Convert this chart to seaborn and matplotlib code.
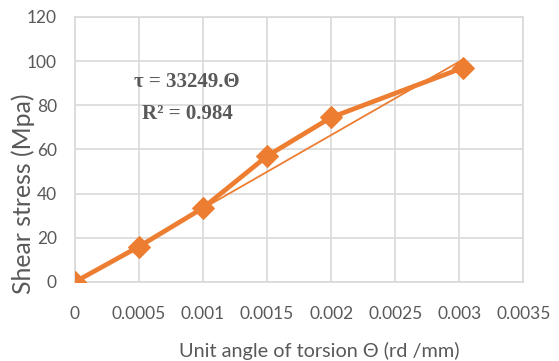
import numpy as np
import pandas as pd
import matplotlib
matplotlib.use("Agg")
import matplotlib.pyplot as plt
import seaborn as sns

# Measured torsion test values
theta = [0.0, 0.0005, 0.001, 0.0015, 0.002, 0.00303]
shear = [0.0, 16.0, 33.5, 57.0, 74.5, 97.0]
slope = 33249
r_squared = 0.984
x_ticks = [0, 0.0005, 0.001, 0.0015, 0.002, 0.0025, 0.003, 0.0035]
x_tick_labels = ["0", "0.0005", "0.001", "0.0015", "0.002", "0.0025", "0.003", "0.0035"]
y_ticks = [0, 20, 40, 60, 80, 100, 120]

sns.set_theme(style="whitegrid")
plt.rcParams["font.family"] = ["Lato", "DejaVu Sans"]

orange = "#ED7D31"
grid_gray = "#D9D9D9"
text_gray = "#595959"

df = pd.DataFrame({"theta": theta, "shear": shear})
fit_x = np.array([theta[0], theta[-1]])
fit = pd.DataFrame({"theta": fit_x, "shear": slope * fit_x})

fig = plt.figure(figsize=(5.59, 3.61), dpi=100)
ax = fig.add_axes([0.134, 0.219, 0.802, 0.734])

sns.lineplot(data=df, x="theta", y="shear", ax=ax, color=orange, linewidth=3.4,
             marker="D", markersize=11, markeredgecolor=orange, zorder=3)
sns.lineplot(data=fit, x="theta", y="shear", ax=ax, color=orange, linewidth=1.3, zorder=4)

ax.set_xlim(0, 0.0035)
ax.set_ylim(0, 120)
ax.set_xticks(x_ticks)
ax.set_xticklabels(x_tick_labels)
ax.set_yticks(y_ticks)
ax.tick_params(axis="x", labelsize=12.5, colors=text_gray, pad=17, length=0)
ax.tick_params(axis="y", labelsize=12.5, colors=text_gray, pad=13, length=0)
ax.grid(True, color=grid_gray, linewidth=1.2)
for s in ax.spines.values():
    s.set_color(grid_gray)
    s.set_linewidth(1.2)

xl = ax.set_xlabel("Unit angle of torsion Θ (rd /mm)", fontsize=14, color=text_gray)
yl = ax.set_ylabel("Shear stress (Mpa)", fontsize=16, color=text_gray)
ax.xaxis.set_label_coords(0.545, -0.225)
ax.yaxis.set_label_coords(-0.089, 0.332)


def fit_length(label, target_px, vertical=False):
    """Scale a label's font size so it spans target_px on the canvas."""
    fig.canvas.draw()
    bb = label.get_window_extent()
    span = bb.height if vertical else bb.width
    label.set_fontsize(label.get_fontsize() * target_px / span)


fit_length(xl, 282)
fit_length(yl, 202, vertical=True)

ax.text(0.000875, 90.5, f"τ = {slope}.Θ", fontsize=15, fontweight="bold",
        family=["Liberation Serif", "DejaVu Serif"], color=text_gray, ha="center", va="center")
ax.text(0.000875, 76, f"R² = {r_squared}", fontsize=15, fontweight="bold",
        family=["Liberation Serif", "DejaVu Serif"], color=text_gray, ha="center", va="center")

fig.savefig("out.png", dpi=100)
